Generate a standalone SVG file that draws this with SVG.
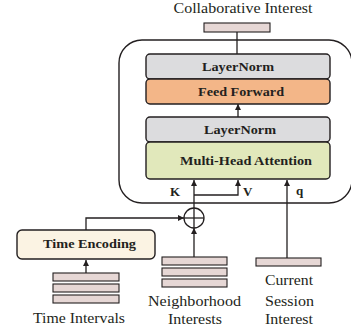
<svg xmlns="http://www.w3.org/2000/svg" width="351" height="336" viewBox="0 0 351 336">
  <style>
    .box { stroke: #231f20; stroke-width: 1.4; }
    .ln { fill: #dcdcde; }
    .ff { fill: #f3b688; }
    .mha { fill: #e1e8bb; }
    .te { fill: #fbf3e3; }
    .emb { fill: #e6d7d5; stroke: #231f20; stroke-width: 1.1; }
    .wire { fill: none; stroke: #231f20; stroke-width: 1.3; }
    text { font-family: 'Liberation Serif', 'DejaVu Serif', serif; font-size: 14px; fill: #231f20; }
    .b { font-weight: bold; font-size: 13px; }
    .c { text-anchor: middle; }
  </style>
  <defs>
    <marker id="arr" viewBox="0 0 6 6" refX="6" refY="3" markerWidth="6" markerHeight="6" markerUnits="userSpaceOnUse" orient="auto">
      <path d="M0,0 L6,3 L0,6 z" fill="#231f20"/>
    </marker>
  </defs>

  <!-- transformer block outline -->
  <rect id="block" x="119" y="40" width="233" height="163" rx="23" ry="23" fill="none" stroke="#231f20" stroke-width="1.4"/>

  <!-- connectors -->
  <g id="connectors">
    <line class="wire" x1="237" y1="32" x2="237" y2="54"/>
    <line class="wire" x1="238" y1="117" x2="238" y2="104" marker-end="url(#arr)"/>
    <line class="wire" x1="194" y1="208" x2="194" y2="180" marker-end="url(#arr)"/>
    <polyline class="wire" points="194,195 238,195 238,180" marker-end="url(#arr)"/>
    <line class="wire" x1="287" y1="258" x2="287" y2="180" marker-end="url(#arr)"/>
    <polyline class="wire" points="86,230 86,218 184,218" marker-end="url(#arr)"/>
    <line class="wire" x1="194" y1="257" x2="194" y2="228" marker-end="url(#arr)"/>
    <line class="wire" x1="86" y1="273" x2="86" y2="260" marker-end="url(#arr)"/>
  </g>

  <g id="collab-interest">
    <rect class="emb" x="204" y="23" width="66" height="9"/>
    <text class="c" x="243" y="13" textLength="139" lengthAdjust="spacingAndGlyphs">Collaborative Interest</text>
  </g>

  <g id="layernorm-top">
    <rect class="box ln" x="146" y="54" width="184" height="25" rx="4"/>
    <text class="b c" x="238" y="71" textLength="72" lengthAdjust="spacingAndGlyphs">LayerNorm</text>
  </g>

  <g id="feed-forward">
    <rect class="box ff" x="146" y="79" width="184" height="25" rx="4"/>
    <text class="b c" x="241" y="96" textLength="86" lengthAdjust="spacingAndGlyphs">Feed Forward</text>
  </g>

  <g id="layernorm-bottom">
    <rect class="box ln" x="146" y="117" width="184" height="25" rx="4"/>
    <text class="b c" x="240" y="134" textLength="72" lengthAdjust="spacingAndGlyphs">LayerNorm</text>
  </g>

  <g id="multi-head-attention">
    <rect class="box mha" x="146" y="142" width="184" height="37" rx="4"/>
    <text class="b c" x="246" y="165" textLength="132" lengthAdjust="spacingAndGlyphs">Multi-Head Attention</text>
  </g>

  <g id="kvq-labels">
    <text class="b" x="170" y="196">K</text>
    <text class="b" x="243" y="196">V</text>
    <text class="b" x="296" y="195">q</text>
  </g>

  <g id="add">
    <circle cx="194" cy="218" r="10" fill="#ffffff" stroke="#231f20" stroke-width="1.3"/>
    <line class="wire" x1="184" y1="218" x2="204" y2="218"/>
    <line class="wire" x1="194" y1="208" x2="194" y2="228"/>
  </g>

  <g id="time-encoding">
    <rect class="box te" x="17" y="230" width="138" height="29" rx="5"/>
    <text class="b c" x="89.5" y="248" textLength="93" lengthAdjust="spacingAndGlyphs">Time Encoding</text>
  </g>

  <g id="time-intervals">
    <rect class="emb" x="53" y="273" width="66" height="8"/>
    <rect class="emb" x="53" y="284" width="66" height="8"/>
    <rect class="emb" x="53" y="295" width="66" height="8"/>
    <text class="c" x="79" y="323" textLength="92" lengthAdjust="spacingAndGlyphs">Time Intervals</text>
  </g>

  <g id="neighborhood-interests">
    <rect class="emb" x="162" y="257" width="65" height="8"/>
    <rect class="emb" x="162" y="268" width="65" height="8"/>
    <rect class="emb" x="162" y="279" width="65" height="8"/>
    <text class="c" x="194.5" y="306" textLength="93" lengthAdjust="spacingAndGlyphs">Neighborhood</text>
    <text class="c" x="195" y="324" textLength="54" lengthAdjust="spacingAndGlyphs">Interests</text>
  </g>

  <g id="current-session-interest">
    <rect class="emb" x="256" y="258" width="65" height="8"/>
    <text class="c" x="289" y="285" textLength="48" lengthAdjust="spacingAndGlyphs">Current</text>
    <text class="c" x="289.5" y="306" textLength="49" lengthAdjust="spacingAndGlyphs">Session</text>
    <text class="c" x="289" y="324" textLength="48" lengthAdjust="spacingAndGlyphs">Interest</text>
  </g>
</svg>
